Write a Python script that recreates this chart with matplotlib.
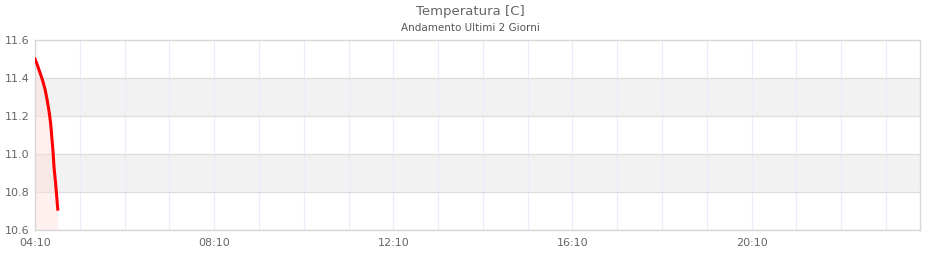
import matplotlib
matplotlib.use("Agg")
import matplotlib.pyplot as plt
from matplotlib.ticker import FixedLocator, MultipleLocator

# minutes after 04:10 and temperature readings
minutes = [0, 3, 6.5, 10, 13.5, 16.5, 19, 21, 22.5, 24, 25.5, 27.5, 29, 30.5]
temps = [11.50, 11.47, 11.43, 11.39, 11.34, 11.28, 11.22, 11.16, 11.09, 11.02,
         10.93, 10.85, 10.78, 10.71]
tick_hours = [0, 4, 8, 12, 16]
tick_labels = ["04:10", "08:10", "12:10", "16:10", "20:10"]
y_ticks = [10.6, 10.8, 11.0, 11.2, 11.4, 11.6]

hours = [m / 60 for m in minutes]

fig = plt.figure(figsize=(9.4, 2.6), dpi=100)
ax = fig.add_axes([35 / 940, 30 / 260, 885 / 940, 190 / 260])

ax.set_xlim(0, 19.76)
ax.set_ylim(10.6, 11.6)

# alternating bands
for i in range(len(y_ticks) - 1):
    if i % 2 == 1:
        ax.axhspan(y_ticks[i], y_ticks[i + 1], color="#f2f2f2", zorder=0, lw=0)

ax.xaxis.set_major_locator(FixedLocator(tick_hours))
ax.xaxis.set_minor_locator(MultipleLocator(1))
ax.set_xticklabels(tick_labels)
ax.set_yticks(y_ticks)
ax.set_yticklabels([f"{v:.1f}" for v in y_ticks])

ax.grid(True, which="both", axis="x", color="#ececfb", lw=0.9, zorder=1)
ax.grid(True, which="major", axis="y", color="#dddddd", lw=0.9, zorder=1)
ax.set_axisbelow(True)

ax.fill_between(hours, temps, 10.6, color="#ffdddd", alpha=0.45, lw=0, zorder=2)
ax.plot(hours, temps, color="#ff0000", lw=2.2, zorder=3)

for s in ax.spines.values():
    s.set_color("#d8d8d8")
    s.set_linewidth(1)

ax.tick_params(axis="both", which="both", length=0, labelsize=8, colors="#666666")
ax.tick_params(axis="x", pad=6)
ax.tick_params(axis="y", pad=4)

fig.text(0.5, 1 - 11 / 260, "Temperatura [C]", ha="center", va="center",
         fontsize=9.5, color="#666666")
fig.text(0.5, 1 - 28 / 260, "Andamento Ultimi 2 Giorni", ha="center", va="center",
         fontsize=7.5, color="#555555")

fig.savefig("out.png", dpi=100)
